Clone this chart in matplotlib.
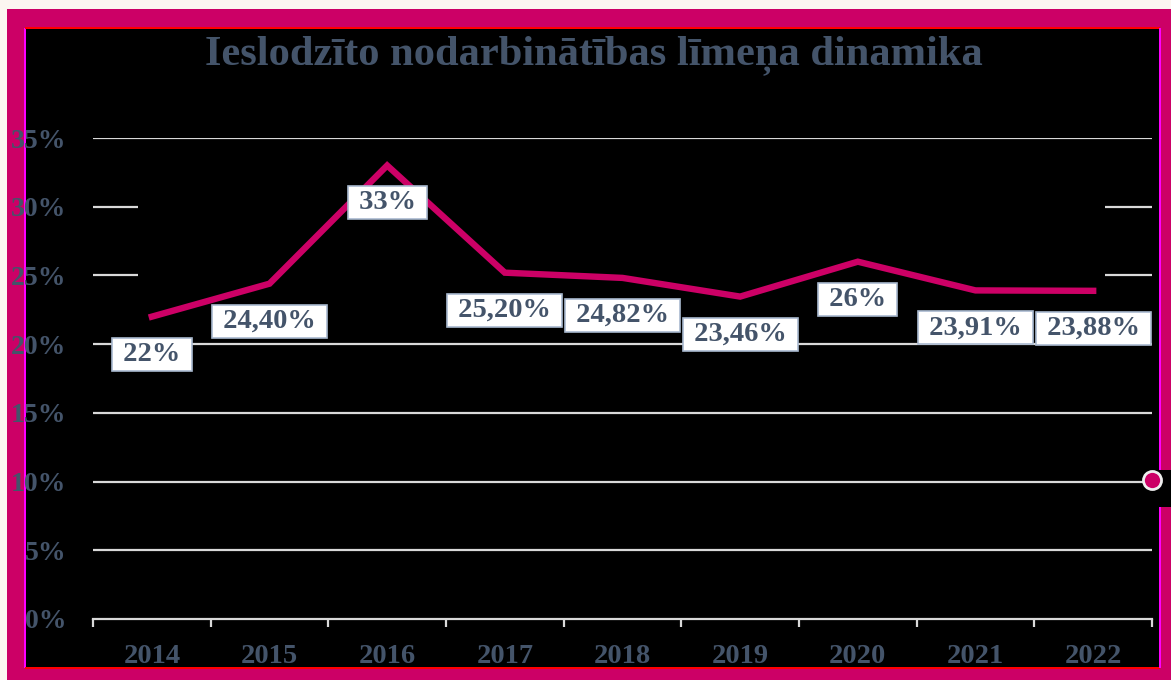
import matplotlib
matplotlib.use("Agg")
import matplotlib.pyplot as plt
from matplotlib.patches import Rectangle
from matplotlib.lines import Line2D
from matplotlib.ticker import FuncFormatter, FixedLocator

years = ["2014", "2015", "2016", "2017", "2018", "2019", "2020", "2021", "2022"]
values = [22.0, 24.40, 33.0, 25.20, 24.82, 23.46, 26.0, 23.91, 23.88]
labels = ["22%", "24,40%", "33%", "25,20%", "24,82%", "23,46%", "26%", "23,91%", "23,88%"]
yticks = [0, 5, 10, 15, 20, 25, 30, 35]

W, H = 1171, 680
magenta = "#CC0066"
slate = "#44546A"
grid_c = "#D9D9D9"
plt.rcParams["font.family"] = ["Liberation Serif", "DejaVu Serif"]
plt.rcParams["font.weight"] = "bold"

fig = plt.figure(figsize=(W / 100, H / 100), dpi=100)
fig.patch.set_facecolor("black")


def fx(px):
    return px / W


def fy(py):
    return 1 - py / H


def rect(x0, y0, x1, y1, color, z=-1):
    fig.add_artist(Rectangle((fx(x0), fy(y1)), fx(x1) - fx(x0), fy(y0) - fy(y1),
                             transform=fig.transFigure, facecolor=color,
                             edgecolor="none", zorder=z))


# frame (drawn under the axes, the tick labels overlap it like in the original)
rect(0, 0, W, 9, "#FCF6F1")
rect(0, 0, 7, H, "#FCF6F1")
rect(7, 9, W, 28, magenta)
rect(7, 9, 25, H, magenta)
rect(24, 28, 26, 668, "#FF00FF")
rect(25, 27, 1160, 29, "#FF0000")
rect(7, 668, W, H, magenta)
rect(25, 667, 1160, 669, "#FF0000")
rect(1159, 28, W, 668, magenta)
rect(1159, 28, 1161, 668, "#FF00FF")
rect(1159, 470, W, 507, "black", z=-0.5)

ax = fig.add_axes([fx(93), fy(619), fx(1152) - fx(93), fy(138) - fy(619)])
ax.set_facecolor("black")
x = list(range(len(years)))
ax.set_xlim(-0.5, len(years) - 0.5)
ax.set_ylim(0, 35)

# gridlines (25% and 30% only show at the ends in the original)
for t in yticks[1:]:
    if t in (25, 30):
        ax.hlines(t, -0.5, -0.12, color=grid_c, lw=1.6, zorder=1)
        ax.hlines(t, 8.1, 8.5, color=grid_c, lw=1.6, zorder=1)
    else:
        ax.hlines(t, -0.5, 8.5, color=grid_c, lw=1.6, zorder=1)

ax.plot(x, values, color=magenta, lw=4.6, solid_joinstyle="miter", zorder=3)

for xi, v, lab in zip(x, values, labels):
    ax.annotate(" " + lab + " ", (xi, v), xytext=(0, -27), textcoords="offset points",
                ha="center", va="center", fontsize=20.5, color=slate, fontweight="bold",
                bbox=dict(boxstyle="square,pad=0.14", facecolor="white",
                          edgecolor="#A9B9CF", lw=1.2), zorder=4)

for s in ["top", "right", "left"]:
    ax.spines[s].set_visible(False)
ax.spines["bottom"].set_color(grid_c)
ax.spines["bottom"].set_linewidth(1.6)

ax.set_yticks(yticks)
ax.yaxis.set_major_formatter(FuncFormatter(lambda v, p: f"{int(v)}%"))
ax.tick_params(axis="y", length=0, pad=19, labelsize=20, labelcolor=slate)
ax.set_xticks(x)
ax.set_xticklabels(years)
ax.xaxis.set_minor_locator(FixedLocator([i - 0.5 for i in range(len(years) + 1)]))
ax.tick_params(axis="x", which="major", length=0, pad=18, labelsize=20.5, labelcolor=slate)
ax.tick_params(axis="x", which="minor", length=6, width=1.6, color=grid_c)
for tl in ax.get_xticklabels() + ax.get_yticklabels():
    tl.set_fontweight("bold")

fig.text(fx(594), fy(55), "Ieslodzīto nodarbinātības līmeņa dinamika", ha="center",
         va="center", fontsize=30.6, color=slate, fontweight="bold")

fig.add_artist(Line2D([fx(1152)], [fy(480)], transform=fig.transFigure, marker="o",
                      markersize=13, markerfacecolor=magenta, markeredgecolor="#EEEEEE",
                      markeredgewidth=2, linestyle="none", zorder=7))

fig.savefig("out.png", dpi=100, facecolor=fig.get_facecolor())
